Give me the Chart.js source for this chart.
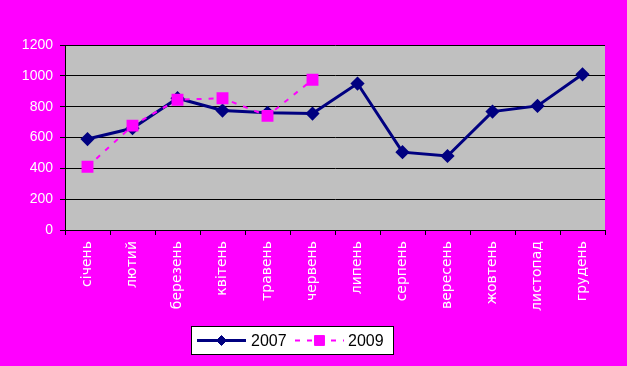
<!DOCTYPE html>
<html>
<head>
<meta charset="utf-8">
<script src="https://cdn.jsdelivr.net/npm/chart.js@4/dist/chart.umd.min.js"></script>
<style>
  html, body { margin: 0; padding: 0; background: #ff00ff; }
  #wrap { width: 627px; height: 366px; position: relative; }
</style>
</head>
<body>
<div id="wrap"><canvas id="chart"></canvas></div>
<script>
// дані
const months = ['січень', 'лютий', 'березень', 'квітень', 'травень', 'червень',
                'липень', 'серпень', 'вересень', 'жовтень', 'листопад', 'грудень'];
const values2007 = [590, 660, 855, 775, 760, 755, 950, 505, 480, 768, 805, 1010];
const values2009 = [410, 677, 845, 855, 740, 975];
const yTicks = [0, 200, 400, 600, 800, 1000, 1200];

const xFont = { family: 'DejaVu Sans, sans-serif', size: 14 };
const yFont = { family: 'Liberation Sans, Arial, sans-serif', size: 14 };

// сіре поле під графіком
const plotBg = {
    id: 'plotBg',
    beforeDraw(chart) {
        const { ctx, chartArea: a } = chart;
        ctx.save();
        ctx.fillStyle = '#c0c0c0';
        ctx.fillRect(a.left, a.top, a.right - a.left, a.bottom - a.top);
        ctx.restore();
    }
};

// легенда в рамці, як в Excel
const boxLegend = {
    id: 'boxLegend',
    afterDraw(chart) {
        const ctx = chart.ctx;
        const x = 191.5, y = 326.5, w = 202, h = 28;
        const cy = y + h / 2;
        ctx.save();
        ctx.fillStyle = '#ffffff';
        ctx.fillRect(x, y, w, h);
        ctx.strokeStyle = '#000000';
        ctx.lineWidth = 1;
        ctx.strokeRect(x, y, w, h);

        const items = [
            { ds: chart.data.datasets[0], x0: 197, x1: 246, tx: 251 },
            { ds: chart.data.datasets[1], x0: 295, x1: 344, tx: 348 }
        ];
        for (const it of items) {
            ctx.beginPath();
            ctx.strokeStyle = it.ds.borderColor;
            ctx.lineWidth = it.ds.borderWidth;
            ctx.setLineDash(it.ds.borderDash || []);
            ctx.moveTo(it.x0, cy);
            ctx.lineTo(it.x1, cy);
            ctx.stroke();
            ctx.setLineDash([]);
            ctx.fillStyle = it.ds.pointBackgroundColor;
            ctx.strokeStyle = it.ds.pointBorderColor;
            ctx.lineWidth = 1;
            Chart.helpers.drawPoint(ctx, {
                pointStyle: it.ds.pointStyle,
                radius: it.ds.pointRadius,
                borderWidth: 1
            }, (it.x0 + it.x1) / 2, cy);
            ctx.fillStyle = '#000000';
            ctx.font = '16px Liberation Sans, Arial, sans-serif';
            ctx.textBaseline = 'middle';
            ctx.fillText(it.ds.label, it.tx, cy + 1);
        }
        ctx.restore();
    }
};

new Chart(document.getElementById('chart'), {
    type: 'line',
    data: {
        labels: months,
        datasets: [{
            label: '2007',
            data: values2007,
            borderColor: '#000080',
            backgroundColor: '#000080',
            pointBorderColor: '#000080',
            pointBackgroundColor: '#000080',
            borderWidth: 3,
            pointStyle: 'rectRot',
            pointRadius: 5,
            tension: 0,
            order: 1
        }, {
            label: '2009',
            data: values2009,
            borderColor: '#ff00ff',
            backgroundColor: '#ff00ff',
            pointBorderColor: '#ff00ff',
            pointBackgroundColor: '#ff00ff',
            borderWidth: 2,
            borderDash: [5, 7],
            pointStyle: 'rect',
            pointRadius: 7,
            tension: 0,
            order: 0
        }]
    },
    options: {
        responsive: true,
        maintainAspectRatio: false,
        animation: false,
        layout: { padding: { left: 0, top: 45, right: 22, bottom: 0 } },
        plugins: {
            legend: { display: false },
            tooltip: { enabled: false }
        },
        scales: {
            x: {
                offset: true,
                grid: { offset: true, drawOnChartArea: false, drawTicks: true, tickLength: 5, color: '#000000' },
                border: { display: true, color: '#000000', width: 1 },
                ticks: { color: '#ffffff', font: xFont, minRotation: 90, maxRotation: 90, padding: 6, autoSkip: false },
                afterFit(scale) { scale.height = 136; }
            },
            y: {
                min: 0,
                max: 1200,
                afterBuildTicks(scale) { scale.ticks = yTicks.map(v => ({ value: v })); },
                grid: { color: '#000000', tickLength: 5 },
                border: { display: true, color: '#000000', width: 1 },
                ticks: { color: '#ffffff', font: yFont, padding: 7, callback: v => String(v) },
                afterFit(scale) { scale.width = 65; }
            }
        }
    },
    plugins: [plotBg, boxLegend]
});
</script>
</body>
</html>
